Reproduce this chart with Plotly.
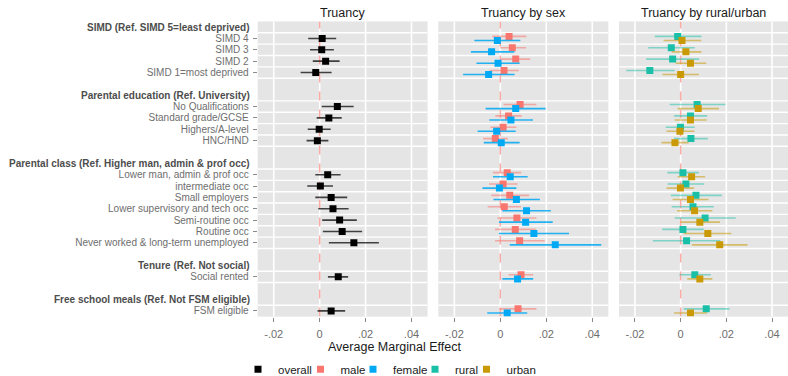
import plotly.graph_objects as go

# ---------------- data ----------------
group_headers = [
    "SIMD (Ref. SIMD 5=least deprived)",
    "Parental education (Ref. University)",
    "Parental class (Ref. Higher man, admin & prof occ)",
    "Tenure (Ref. Not social)",
    "Free school meals (Ref. Not FSM eligible)",
]
group_items = [
    ["SIMD 4", "SIMD 3", "SIMD 2", "SIMD 1=most deprived"],
    ["No Qualifications", "Standard grade/GCSE", "Highers/A-level", "HNC/HND"],
    ["Lower man, admin & prof occ", "intermediate occ", "Small employers",
     "Lower supervisory and tech occ", "Semi-routine occ", "Routine occ",
     "Never worked & long-term unemployed"],
    ["Social rented"],
    ["FSM eligible"],
]

overall_est = [0.0011, 0.0009, 0.0026, -0.0017, 0.0077, 0.0040, -0.0002, -0.0010, 0.0035, 0.0003, 0.0050, 0.0058, 0.0087, 0.0098, 0.0149, 0.0081, 0.0050]
overall_lo = [-0.0050, -0.0042, -0.0030, -0.0083, 0.0009, -0.0013, -0.0052, -0.0057, -0.0019, -0.0054, -0.0019, -0.0006, 0.0011, 0.0014, 0.0040, 0.0036, -0.0009]
overall_hi = [0.0072, 0.0062, 0.0087, 0.0052, 0.0148, 0.0096, 0.0048, 0.0038, 0.0091, 0.0058, 0.0120, 0.0126, 0.0162, 0.0185, 0.0258, 0.0124, 0.0111]

male_est = [0.0038, 0.0052, 0.0067, 0.0016, 0.0086, 0.0036, 0.0012, -0.0022, 0.0030, 0.0012, 0.0041, 0.0017, 0.0072, 0.0065, 0.0084, 0.0090, 0.0077]
male_lo = [-0.0035, -0.0001, 0.0003, -0.0046, 0.0014, -0.0022, -0.0043, -0.0075, -0.0032, -0.0049, -0.0039, -0.0055, -0.0013, -0.0023, -0.0023, 0.0036, -0.0003]
male_hi = [0.0113, 0.0112, 0.0130, 0.0080, 0.0157, 0.0093, 0.0070, 0.0033, 0.0091, 0.0075, 0.0125, 0.0090, 0.0157, 0.0154, 0.0193, 0.0143, 0.0157]

female_est = [-0.0013, -0.0038, -0.0010, -0.0051, 0.0067, 0.0046, -0.0016, 0.0004, 0.0043, -0.0004, 0.0070, 0.0114, 0.0110, 0.0146, 0.0239, 0.0075, 0.0030]
female_lo = [-0.0113, -0.0128, -0.0104, -0.0162, -0.0064, -0.0048, -0.0099, -0.0072, -0.0032, -0.0078, -0.0030, 0.0009, -0.0006, -0.0006, 0.0041, 0.0009, -0.0057]
female_hi = [0.0087, 0.0061, 0.0084, 0.0062, 0.0197, 0.0142, 0.0067, 0.0084, 0.0119, 0.0070, 0.0172, 0.0220, 0.0228, 0.0299, 0.0439, 0.0143, 0.0117]

rural_est = [-0.0013, -0.0041, -0.0035, -0.0135, 0.0072, 0.0043, -0.0001, 0.0045, 0.0010, 0.0023, 0.0067, 0.0054, 0.0107, 0.0010, 0.0026, 0.0062, 0.0112]
rural_lo = [-0.0113, -0.0142, -0.0151, -0.0238, -0.0048, -0.0029, -0.0065, -0.0029, -0.0058, -0.0057, -0.0043, -0.0039, -0.0026, -0.0081, -0.0122, -0.0006, 0.0013]
rural_hi = [0.0091, 0.0062, 0.0081, -0.0026, 0.0196, 0.0116, 0.0061, 0.0119, 0.0080, 0.0103, 0.0180, 0.0145, 0.0241, 0.0101, 0.0174, 0.0132, 0.0214]

urban_est = [0.0006, 0.0023, 0.0043, 0.0000, 0.0077, 0.0043, -0.0003, -0.0025, 0.0048, -0.0001, 0.0043, 0.0061, 0.0084, 0.0119, 0.0171, 0.0084, 0.0043]
urban_lo = [-0.0075, -0.0039, -0.0022, -0.0080, -0.0013, -0.0026, -0.0062, -0.0084, -0.0013, -0.0062, -0.0035, -0.0016, 0.0000, 0.0014, 0.0049, 0.0029, -0.0029]
urban_hi = [0.0090, 0.0091, 0.0112, 0.0080, 0.0168, 0.0114, 0.0061, 0.0035, 0.0107, 0.0059, 0.0122, 0.0139, 0.0172, 0.0222, 0.0293, 0.0139, 0.0116]

panel_titles = ["Truancy", "Truancy by sex", "Truancy by rural/urban"]
x_tickvals = [-0.02, 0, 0.02, 0.04]
x_ticktext = ["-.02", "0", ".02", ".04"]
x_range = [-0.027, 0.047]
ref_value = 0.0

# ---------------- row layout ----------------
rows = []          # (label, kind)
for gi, (h, its) in enumerate(zip(group_headers, group_items)):
    rows.append((h, "header"))
    for it in its:
        rows.append((it, "item"))
    if gi < len(group_headers) - 1:
        rows.append(("", "blank"))

item_pos = [i for i, (_, k) in enumerate(rows) if k == "item"]
item_lab = [lab for lab, k in rows if k == "item"]
head_pos = [i for i, (_, k) in enumerate(rows) if k == "header"]
head_lab = [lab for lab, k in rows if k == "header"]
grid_pos = [i + 0.5 for i in range(len(rows) - 1) if rows[i][1] != "blank"]
yrange = [len(rows) - 0.5, -0.5]

FONT = "Liberation Sans, Arial, sans-serif"
OFF = 0.18
W = 788.0

def ci_trace(name, est, lo, hi, dy, color, errcolor, xa, ya, leg):
    return go.Scatter(
        x=est, y=[p + dy for p in item_pos], name=name, mode="markers",
        marker=dict(symbol="square", size=7, color=color),
        error_x=dict(type="data", symmetric=False,
                     array=[h - e for h, e in zip(hi, est)],
                     arrayminus=[e - l for e, l in zip(est, lo)],
                     width=0, thickness=1.6, color=errcolor),
        xaxis=xa, yaxis=ya, legend=leg, hoverinfo="skip")

fig = go.Figure()
fig.add_trace(ci_trace("overall", overall_est, overall_lo, overall_hi, 0,
                       "#000000", "rgba(0,0,0,0.72)", "x", "y", "legend"))
fig.add_trace(ci_trace("male", male_est, male_lo, male_hi, -OFF,
                       "#F8766D", "rgba(248,118,109,0.55)", "x2", "y2", "legend2"))
fig.add_trace(ci_trace("female", female_est, female_lo, female_hi, OFF,
                       "#00A9F4", "rgba(0,169,244,0.85)", "x2", "y2", "legend3"))
fig.add_trace(ci_trace("rural", rural_est, rural_lo, rural_hi, -OFF,
                       "#19BFA7", "rgba(25,191,167,0.5)", "x3", "y3", "legend4"))
fig.add_trace(ci_trace("urban", urban_est, urban_lo, urban_hi, OFF,
                       "#C99A06", "rgba(201,154,6,0.55)", "x3", "y3", "legend5"))

doms = [[0.3270, 0.5426], [0.5562, 0.7720], [0.7855, 1.0]]
ydom = [0.158, 0.943]
TICKCOL = "#6e6e6e"
GRID = dict(color="#FFFFFF", width=1.4)
VGRID = dict(color="#FFFFFF", width=1.6)

for i, d in enumerate(doms):
    sfx = "" if i == 0 else str(i + 1)
    fig.layout["xaxis" + sfx] = dict(
        domain=d, anchor="y" + sfx, range=x_range,
        tickvals=x_tickvals, ticktext=x_ticktext,
        showgrid=False, zeroline=False,
        ticks="outside", ticklen=4, tickcolor="#8a8a8a", tickwidth=1,
        ticklabelstandoff=3,
        tickfont=dict(family=FONT, size=11, color=TICKCOL), showline=False)
    fig.layout["yaxis" + sfx] = dict(
        domain=ydom, anchor="x" + sfx, range=yrange,
        tickvals=item_pos if i == 0 else [],
        ticktext=item_lab if i == 0 else [],
        showticklabels=(i == 0), showgrid=False, zeroline=False,
        ticks="outside" if i == 0 else "", ticklen=4, tickcolor="#8a8a8a",
        ticklabelstandoff=2,
        tickfont=dict(family=FONT, size=10, color=TICKCOL))
    # horizontal separators between rows
    for gp in grid_pos:
        fig.add_shape(type="line", xref="x" + sfx, yref="y" + sfx,
                      x0=x_range[0], x1=x_range[1], y0=gp, y1=gp, layer="below",
                      line=GRID)
    # vertical grid lines at the x ticks
    for tv in x_tickvals:
        fig.add_shape(type="line", xref="x" + sfx, yref="y" + sfx,
                      x0=tv, x1=tv, y0=yrange[0], y1=yrange[1], layer="below",
                      line=VGRID)
    # dashed reference line at zero
    fig.add_shape(type="line", xref="x" + sfx, yref="y" + sfx,
                  x0=ref_value, x1=ref_value, y0=yrange[0], y1=yrange[1],
                  layer="between",
                  line=dict(color="rgba(248,118,109,0.62)", width=1.5, dash="dash"))
    fig.add_annotation(text=panel_titles[i], xref="x" + sfx + " domain", x=0.5,
                       yref="paper", y=0.966, showarrow=False, yanchor="middle",
                       font=dict(family=FONT, size=12.5, color="#1a1a1a"))

# group headers (bold, right aligned next to the axis)
for hp, hl in zip(head_pos, head_lab):
    fig.add_annotation(text="<b>%s</b>" % hl, xref="paper", x=251.5 / W,
                       xanchor="right", yref="y", y=hp, yanchor="middle",
                       showarrow=False,
                       font=dict(family=FONT, size=10, color="#4d4d4d"))

fig.add_annotation(text="Average Marginal Effect", xref="paper", x=0.5,
                   yref="paper", y=0.078, showarrow=False, yanchor="middle",
                   font=dict(family=FONT, size=12.5, color="#1a1a1a"))

leg_centres = [258, 320.5, 373, 435, 486.5]
legs = {}
for k, c in enumerate(leg_centres):
    key = "legend" if k == 0 else "legend%d" % (k + 1)
    legs[key] = dict(orientation="h", x=(c - 20) / W, xanchor="left",
                     y=0.018, yanchor="middle", itemwidth=30,
                     font=dict(family=FONT, size=11.5, color="#1a1a1a"),
                     bgcolor="rgba(0,0,0,0)", borderwidth=0)

fig.update_layout(
    width=788, height=376,
    margin=dict(l=0, r=0, t=0, b=0, autoexpand=False),
    paper_bgcolor="white", plot_bgcolor="#E5E5E5",
    showlegend=True, font=dict(family=FONT),
    **legs,
)

fig.write_html("out.html")
